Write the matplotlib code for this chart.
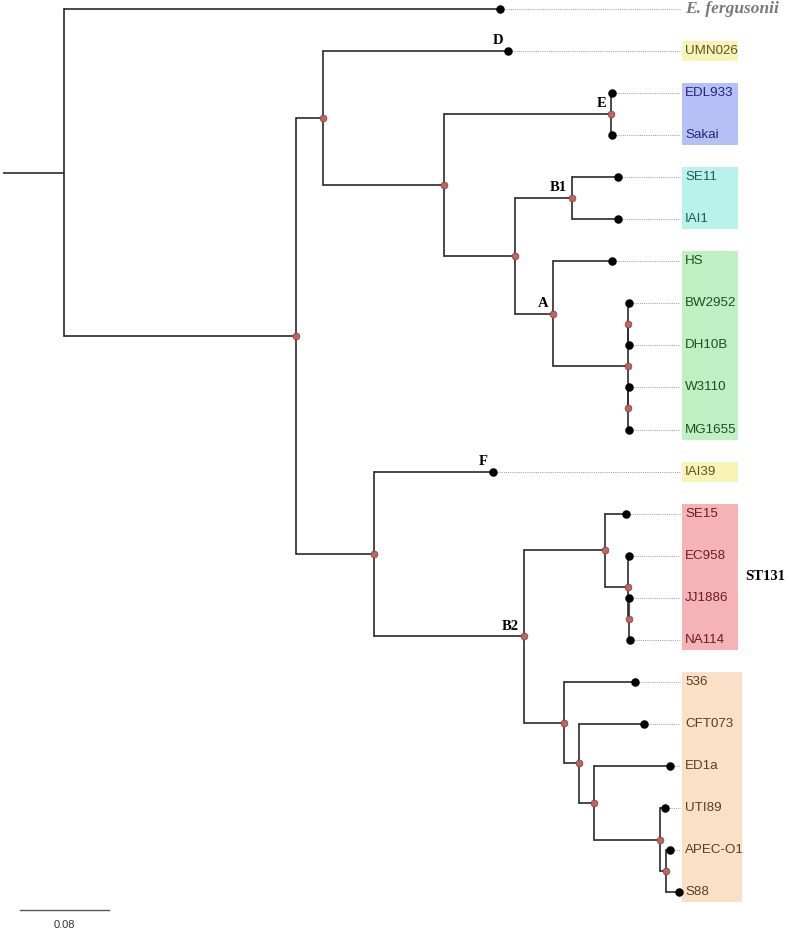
import numpy as np
import matplotlib.pyplot as plt
from matplotlib.patches import Rectangle

# -----------------------------------------------------------------------------
# Tree in preorder: node name, parent index, branch length (subst./site)
# internal nodes start with 'n'
names = ['nRoot', 'E. fergusonii', 'nIngroup', 'nDEAB1', 'UMN026', 'nEAB1',
         'nE', 'EDL933', 'Sakai', 'nAB1', 'nB1', 'SE11', 'IAI1', 'nA', 'HS',
         'nK12', 'nK12a', 'BW2952', 'DH10B', 'nK12b', 'W3110', 'MG1655',
         'nFB2', 'IAI39', 'nB2', 'nST131', 'SE15', 'nST131a', 'EC958',
         'nST131b', 'JJ1886', 'NA114', 'nUPEC', '536', 'nUPECa', 'CFT073',
         'nUPECb', 'ED1a', 'nUPECc', 'UTI89', 'nUPECd', 'APEC-O1', 'S88']
parents = [-1, 0, 0, 2, 3, 3, 5, 6, 6, 5, 9, 10, 10, 9, 13, 13, 15, 16, 16,
           15, 19, 19, 2, 22, 22, 24, 25, 25, 27, 27, 29, 29, 24, 32, 32, 34,
           34, 36, 36, 38, 38, 40, 40]
blen = [0.0548, 0.392, 0.2085, 0.0243, 0.1663, 0.1088, 0.1501, 0.0005,
        0.0005, 0.0638, 0.0512, 0.0413, 0.0413, 0.0342, 0.0530, 0.0674,
        0.0003, 0.0002, 0.0002, 0.0003, 0.0002, 0.0002, 0.0701, 0.1070,
        0.1348, 0.0728, 0.0189, 0.0207, 0.0010, 0.0010, 0.0003, 0.0010,
        0.0360, 0.0638, 0.0135, 0.0584, 0.0135, 0.0683, 0.0593, 0.0045,
        0.0054, 0.0036, 0.0117]

# clade tags (phylogroups)
tag_nodes = ['UMN026', 'nE', 'nB1', 'nA', 'IAI39', 'nB2']
tag_text = ['D', 'E', 'B1', 'A', 'F', 'B2']

# coloured label boxes
grp_first = ['UMN026', 'EDL933', 'SE11', 'HS', 'IAI39', 'SE15', '536']
grp_last = ['UMN026', 'Sakai', 'IAI1', 'MG1655', 'IAI39', 'NA114', 'S88']
grp_face = ['#f8f4b8', '#b4c0f6', '#b9f2eb', '#bff0c3', '#f8f4b8', '#f4b4b6', '#fbe0c8']
grp_text = ['#5c5524', '#1e2a70', '#1f5b57', '#1e4f24', '#5c5524', '#6e1b20', '#5c3b24']

scale_len = 0.08

# -----------------------------------------------------------------------------
# layout
n = len(names)
children = [[] for _ in range(n)]
for i, p in enumerate(parents):
    if p >= 0:
        children[p].append(i)

x = np.zeros(n)
x[0] = blen[0]
for i in range(1, n):
    x[i] = x[parents[i]] + blen[i]

y = np.zeros(n)
k = 0
for i in range(n):
    if not children[i]:
        y[i] = k
        k += 1
for i in range(n - 1, -1, -1):
    if children[i]:
        y[i] = 0.5 * (y[children[i][0]] + y[children[i][-1]])

idx = {nm: i for i, nm in enumerate(names)}
leaves = [i for i in range(n) if not children[i]]

# -----------------------------------------------------------------------------
fig = plt.figure(figsize=(7.89, 9.30), dpi=100)
ax = fig.add_axes([0, 0, 1, 1])
px = scale_len / 89.0            # data units per pixel
ax.set_xlim(-3 * px, 786 * px)
ax.set_ylim(21.902, -0.214)
ax.axis('off')

lc = '#2a2a2a'
# root stub
ax.plot([0, x[0]], [y[0], y[0]], color=lc, lw=1.2, solid_capstyle='butt')
for i in range(n):
    if children[i]:
        ys = [y[c] for c in children[i]]
        ax.plot([x[i], x[i]], [min(ys), max(ys)], color=lc, lw=1.2)
        for c in children[i]:
            ax.plot([x[i], x[c]], [y[c], y[c]], color=lc, lw=1.2,
                    solid_capstyle='butt')

# label column
box_x0 = 679 * px
text_x0 = 682 * px

for f, l, fc, tc in zip(grp_first, grp_last, grp_face, grp_text):
    y0 = y[idx[f]] - 0.238
    y1 = y[idx[l]] + 0.238
    w = 60 * px if f == '536' else 56 * px
    ax.add_patch(Rectangle((box_x0, y0), w, y1 - y0, facecolor=fc,
                           edgecolor='none', zorder=1))
    for j in range(idx[f], idx[l] + 1):
        if not children[j]:
            ax.text(text_x0, y[j], names[j], color=tc, fontsize=9.6,
                    family='Liberation Sans', ha='left', va='center', zorder=3)

# dotted leaders
for i in leaves:
    ax.plot([x[i] + 4 * px, box_x0 - 2 * px], [y[i], y[i]], color='#9a9a9a',
            lw=0.7, ls=(0, (1, 1.2)), zorder=1)

ax.text(text_x0, y[idx['E. fergusonii']], 'E. fergusonii', color='#7a7a7a',
        fontsize=12.5, family='Liberation Serif', fontweight='bold',
        style='italic', ha='left', va='center')

# nodes
inner = [i for i in range(n) if children[i] and i != 0]
ax.scatter(x[inner], y[inner], s=24, color='#c06363', edgecolors='#8a3c3c',
           linewidths=0.5, zorder=4)
ax.scatter(x[leaves], y[leaves], s=26, color='black', zorder=4)

# clade tags
for nm, t in zip(tag_nodes, tag_text):
    i = idx[nm]
    ax.annotate(t, (x[i], y[i]), xytext=(-3.5, 7.5), textcoords='offset points',
                ha='right', va='center', fontsize=10.5, fontweight='bold',
                family='Liberation Serif', color='black')

ax.text(762 * px, 0.5 * (y[idx['EC958']] + y[idx['JJ1886']]), 'ST131',
        fontsize=10.5, fontweight='bold', family='Liberation Serif',
        ha='center', va='center')

# scale bar
sb_x = 17 * px
ax.plot([sb_x, sb_x + scale_len], [21.43, 21.43], color='#555555', lw=1.0)
ax.text(sb_x + scale_len / 2, 21.78, '0.08', fontsize=8, color='#333333',
        ha='center', va='center', family='Liberation Sans')

plt.savefig('out.png', dpi=100)
